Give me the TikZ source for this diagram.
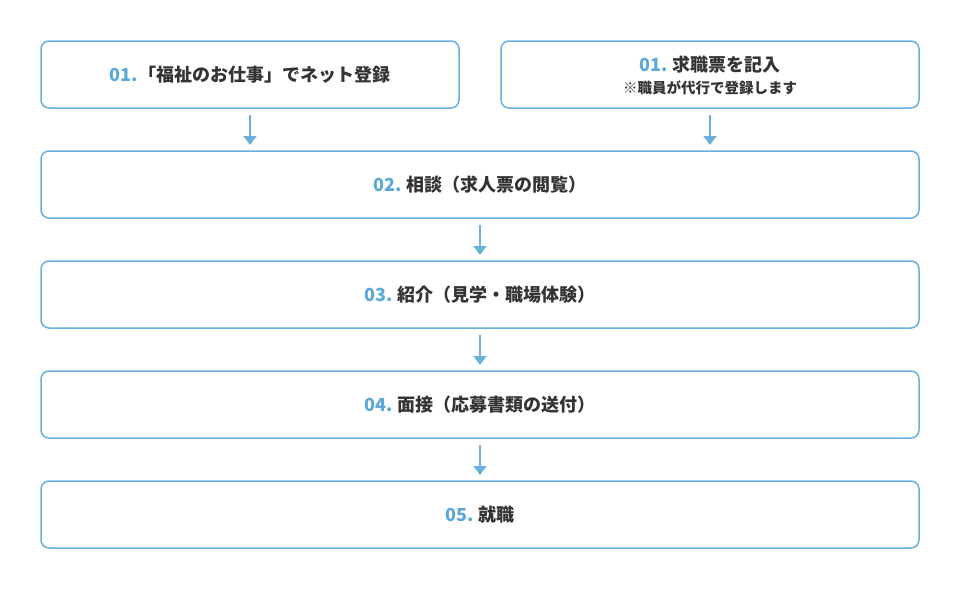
\documentclass[tikz,border=0pt]{standalone}
\usepackage{fontspec}
\setmainfont{Noto Sans CJK JP}
\usetikzlibrary{arrows.meta}
\definecolor{bd}{HTML}{6AB0DC}
\definecolor{num}{HTML}{5BA8D6}
\definecolor{txt}{HTML}{333333}
\tikzset{
  box/.style={draw=bd, line width=1.5pt, rounded corners=8pt, fill=white, inner sep=0pt},
  lbl/.style={text=txt, font=\bfseries\fontsize{18}{21}\selectfont, align=center},
  arr/.style={draw=bd, line width=1.7pt, -{Triangle[width=13pt,length=9pt]}},
}
\newcommand{\nb}[1]{\textcolor{num}{#1}}
\begin{document}
\begin{tikzpicture}[x=1pt,y=-1pt]
\useasboundingbox (0,0) rectangle (960,590);
\draw[box] (41,41) rectangle (459,108);
\draw[box] (501,41) rectangle (919,108);
\draw[box] (41,151) rectangle (919,218);
\draw[box] (41,261) rectangle (919,328);
\draw[box] (41,371) rectangle (919,438);
\draw[box] (41,481) rectangle (919,548);
\node[lbl] (t1a) at (250,74.5) {\nb{01.}「福祉のお仕事」でネット登録};
\node[lbl] (t1b) at (710,65) {\nb{01.} 求職票を記入};
\node[text=txt, font=\bfseries\fontsize{14.5}{17}\selectfont] (t1c) at (710,88) {※職員が代行で登録します};
\node[lbl] (t2) at (480,184.5) {\nb{02.} 相談（求人票の閲覧）};
\node[lbl] (t3) at (480,294.5) {\nb{03.} 紹介（見学・職場体験）};
\node[lbl] (t4) at (480,404.5) {\nb{04.} 面接（応募書類の送付）};
\node[lbl] (t5) at (480,514.5) {\nb{05.} 就職};
\coordinate (a1s) at (250,115); \coordinate (a1e) at (250,145);
\coordinate (a2s) at (710,115); \coordinate (a2e) at (710,145);
\coordinate (a3s) at (480,225); \coordinate (a3e) at (480,255);
\coordinate (a4s) at (480,335); \coordinate (a4e) at (480,365);
\coordinate (a5s) at (480,445); \coordinate (a5e) at (480,475);
\draw[arr] (a1s) -- (a1e);
\draw[arr] (a2s) -- (a2e);
\draw[arr] (a3s) -- (a3e);
\draw[arr] (a4s) -- (a4e);
\draw[arr] (a5s) -- (a5e);
\end{tikzpicture}
\end{document}
